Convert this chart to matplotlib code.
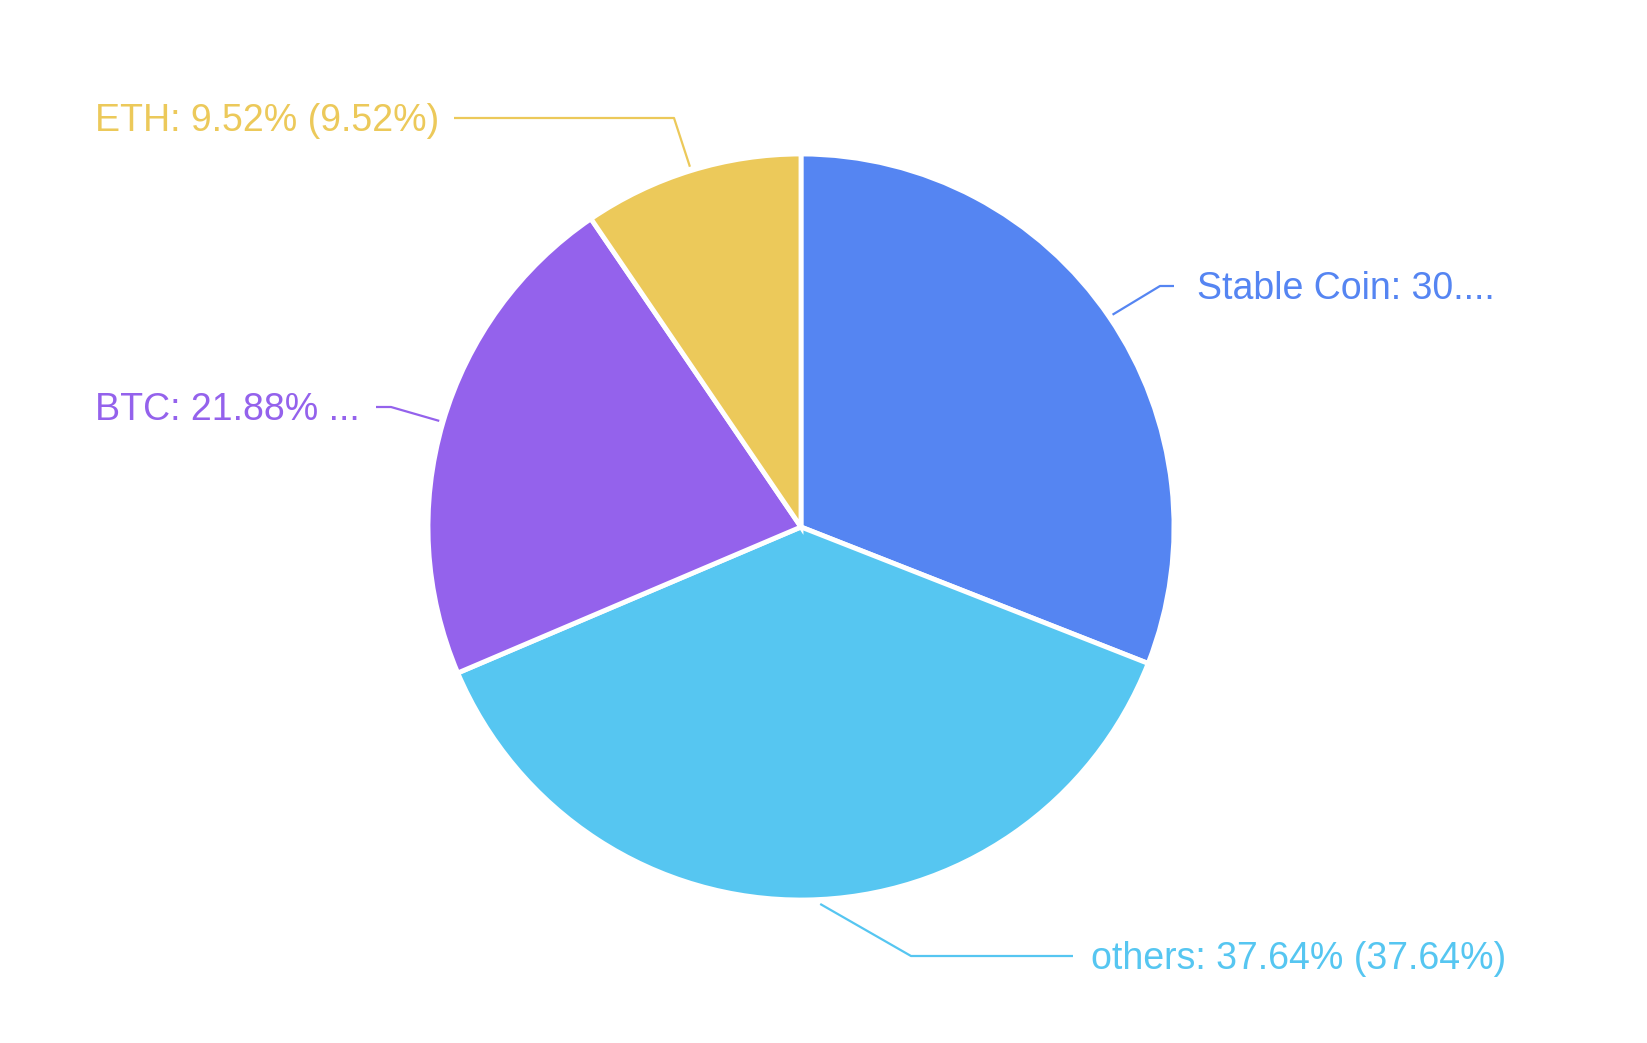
import numpy as np
import matplotlib
matplotlib.use("Agg")
import matplotlib.pyplot as plt

# data
names = ["Stable Coin", "others", "BTC", "ETH"]
shares = [30.96, 37.64, 21.88, 9.52]
colors = ["#5585F2", "#56C6F1", "#9462EC", "#ECC95A"]
# labels get cut like the original (chars kept before "...")
keep_chars = [16, None, 12, None]

W, H = 1647, 1043
cx, cy, radius = 801, 527, 373  # image pixels, y measured from top

# label layout: elbow point, line end, text anchor x, nudge of line start (image coords)
layout = {
    "Stable Coin": dict(elbow=(1160, 286), end=(1174, 286), tx=1197, nudge=0),
    "others": dict(elbow=(911, 956), end=(1073, 956), tx=1091, nudge=14),
    "BTC": dict(elbow=(391, 407), end=(376, 407), tx=95, nudge=0),
    "ETH": dict(elbow=(674, 118), end=(454, 118), tx=95, nudge=0),
}

plt.rcParams['font.family'] = ['Liberation Sans', 'DejaVu Sans']

fig = plt.figure(figsize=(W / 100, H / 100), dpi=100)
ax = fig.add_axes([0, 0, 1, 1])

wedges, _ = ax.pie(shares, colors=colors, startangle=90, counterclock=False,
                   center=(cx, H - cy), radius=radius,
                   wedgeprops=dict(edgecolor="white", linewidth=3.5))

# pie() resets the limits, so set them afterwards
ax.set_xlim(0, W)
ax.set_ylim(0, H)
ax.set_aspect("equal")
ax.axis("off")

for w, name, val, col, keep in zip(wedges, names, shares, colors, keep_chars):
    mid = np.deg2rad((w.theta1 + w.theta2) / 2)
    lay = layout[name]
    sx = cx + (radius + 4) * np.cos(mid) + lay["nudge"]
    sy = cy - (radius + 4) * np.sin(mid)
    xs = [sx, lay["elbow"][0], lay["end"][0]]
    ys = [H - sy, H - lay["elbow"][1], H - lay["end"][1]]
    ax.plot(xs, ys, color=col, linewidth=1.6, solid_capstyle="butt")

    label = f"{name}: {val:.2f}% ({val:.2f}%)"
    if keep is not None:
        label = label[:keep] + "..."
    ax.text(lay["tx"], H - lay["end"][1] - 3, label, color=col, fontsize=27,
            ha="left", va="center")

fig.savefig("out.png", dpi=100, facecolor="white")
